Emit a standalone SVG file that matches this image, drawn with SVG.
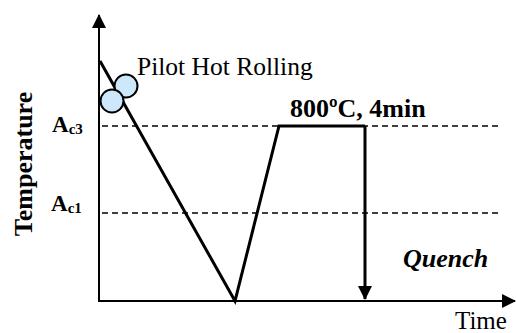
<svg xmlns="http://www.w3.org/2000/svg" width="516" height="333" viewBox="0 0 516 333">
<style>
.axis{stroke:#000;stroke-width:2;fill:none}
.curve{stroke:#000;stroke-width:3;fill:none;stroke-linejoin:miter}
.dash{stroke:#000;stroke-width:1.5;stroke-dasharray:6 4;fill:none}
.roll{fill:#cce8fa;stroke:#000;stroke-width:2}
text{font-family:"Liberation Serif","Times New Roman",serif;fill:#000}
.b{font-weight:bold}
</style>
<defs>
<marker id="ah" markerWidth="14" markerHeight="14" refX="13" refY="7" orient="auto" markerUnits="userSpaceOnUse">
<path d="M0,0 L14,7 L0,14 Z" fill="#000"/>
</marker>
</defs>
<g id="connectors">
<line class="axis" x1="99" y1="302" x2="99" y2="15" marker-end="url(#ah)"/>
<line class="axis" x1="98" y1="301" x2="515" y2="301" marker-end="url(#ah)"/>
<line class="dash" x1="102" y1="126" x2="498" y2="126"/>
<line class="dash" x1="102" y1="213" x2="498" y2="213"/>
<polyline class="curve" points="100,61 235,301 279,126 365,126"/>
<line class="curve" x1="365" y1="126" x2="365" y2="299" marker-end="url(#ah)"/>
</g>
<g id="rolls">
<circle class="roll" cx="126" cy="86" r="11.5"/>
<circle class="roll" cx="112" cy="101" r="11.5"/>
</g>
<g id="labels">
<text x="137" y="75" font-size="25.5">Pilot Hot Rolling</text>
<text class="b" x="290" y="117" font-size="26">800ºC, 4min</text>
<text class="b" x="52" y="132" font-size="23">A<tspan font-size="15" dy="2">c3</tspan></text>
<text class="b" x="51" y="211" font-size="23">A<tspan font-size="15" dy="2">c1</tspan></text>
<text class="b" x="0" y="0" font-size="26" transform="translate(32,164) rotate(-90)" text-anchor="middle">Temperature</text>
<text class="b" x="403" y="267" font-size="26" font-style="italic">Quench</text>
<text x="455" y="329" font-size="25">Time</text>
</g>
</svg>
